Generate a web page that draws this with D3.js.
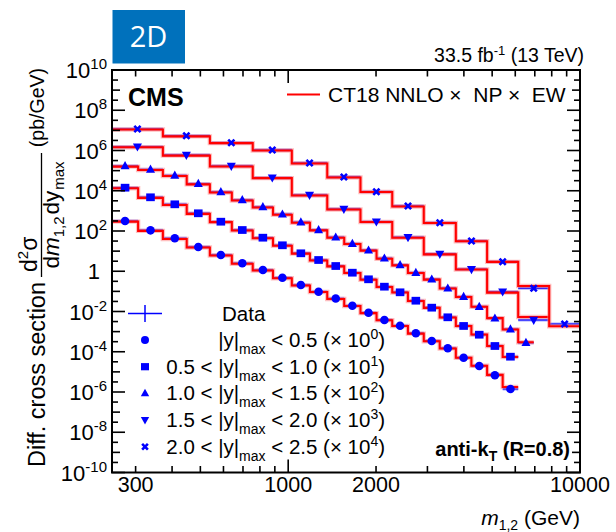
<!DOCTYPE html>
<html><head><meta charset="utf-8">
<script src="https://cdn.jsdelivr.net/npm/d3@7"></script>
<style>
html,body{margin:0;padding:0;background:#fff;}
svg text{font-family:"Liberation Sans",Arial,Helvetica,sans-serif;}
</style></head>
<body>
<svg id="chart" width="616" height="532"></svg>
<script>
// ---------------- data ----------------
const edgesFine   = [249, 306, 372, 449, 539, 641, 756, 887, 1029, 1187, 1361, 1556, 1769, 2008, 2273, 2572, 2915, 3306, 3754, 4244, 4805, 5433, 6141, 6940];
const edgesCoarse = [249, 372, 539, 756, 1029, 1361, 1769, 2273, 2915, 3754, 4805, 6141, 7842, 10000];

// unscaled measured cross sections (pb/GeV)
const dataY0 = [314, 108, 43.4, 16.0, 6.41, 2.48, 1.15, 0.479, 0.207, 0.0964, 0.0443, 0.0194, 0.0087, 0.0038, 0.00197, 8.26e-4, 3.42e-4, 1.48e-4, 5.06e-5, 1.96e-5, 6.76e-6, 1.41e-6];
const dataY1 = [1420, 473, 212, 75.9, 29.0, 11.2, 4.65, 1.95, 0.780, 0.362, 0.182, 0.0847, 0.0398, 0.0171, 0.00899, 0.00344, 0.00155, 5.15e-4, 1.91e-4, 7.03e-5, 1.93e-5, 5.68e-6];
const dataY2 = [1698, 1138, 573, 224, 86.7, 34.7, 15.6, 6.76, 2.74, 1.12, 0.486, 0.234, 0.110, 0.0440, 0.0205, 0.00847, 0.00398, 0.00142, 5.45e-4, 1.73e-4, 4.59e-5, 1.31e-5, 2.82e-6];
const dataY3 = [1545, 597, 170, 44.5, 6.15, 1.24, 0.290, 0.0486, 0.00720, 0.00125, 9.64e-5, 3.78e-6];
const dataY4 = [1169, 543, 244, 106, 23.9, 4.82, 0.897, 0.175, 0.0258, 0.00318, 2.98e-4, 1.42e-5, 2.39e-7];

// theory / data ratio
const ratioY0 = [0.93, 0.94, 0.93, 0.95, 0.94, 0.95, 0.95, 0.94, 0.95, 0.96, 0.95, 0.96, 0.95, 0.96, 0.97, 0.96, 0.97, 0.98, 1.0, 1.02, 1.05, 1.25];
const ratioY1 = [0.93, 0.94, 0.93, 0.94, 0.95, 0.95, 0.94, 0.95, 0.96, 0.95, 0.96, 0.96, 0.95, 0.96, 0.97, 0.96, 0.98, 0.97, 1.0, 1.02, 1.0, 0.97];
const ratioY2 = [0.93, 0.94, 0.94, 0.93, 0.95, 0.94, 0.95, 0.95, 0.94, 0.96, 0.95, 0.96, 0.96, 0.95, 0.96, 0.97, 0.96, 0.98, 0.97, 1.0, 1.02, 0.98, 1.05];
const ratioY3 = [0.94, 0.93, 0.94, 0.95, 0.94, 0.95, 0.96, 0.95, 0.96, 0.97, 0.9, 1.41];
const ratioY4 = [0.94, 0.93, 0.95, 0.94, 0.95, 0.94, 0.96, 0.95, 0.96, 0.97, 0.98, 1.3, 0.77];

const scaleExp    = [0, 1, 2, 3, 4];
const rangeLabels = [["", "0.5"], ["0.5", "1.0"], ["1.0", "1.5"], ["1.5", "2.0"], ["2.0", "2.5"]];
const markerTypes = ["circle", "square", "triangle", "triangleDown", "cross"];

const xTickLabels = [300, 1000, 2000, 10000];
const yLabelExps  = [10, 8, 6, 4, 2, 0, -2, -4, -6, -8, -10];

const series = [
  {edges: edgesFine,   data: dataY0, ratio: ratioY0},
  {edges: edgesFine,   data: dataY1, ratio: ratioY1},
  {edges: edgesFine,   data: dataY2, ratio: ratioY2},
  {edges: edgesCoarse, data: dataY3, ratio: ratioY3},
  {edges: edgesCoarse, data: dataY4, ratio: ratioY4}
];

// ---------------- layout ----------------
const L = 112, R = 580, T = 70, B = 472.5;
const svg = d3.select("#chart");
const x = d3.scaleLog().domain([249, 10000]).range([L, R]);
const y = d3.scaleLog().domain([1e-10, 1e10]).range([B, T]);

const BLUE = "#0000ff", RED = "#ff0000";
const FS = 21;

// badge
svg.append("rect").attr("x", 112.5).attr("y", 10).attr("width", 72.5).attr("height", 53.5).attr("fill", "#0071bc");
svg.append("text").attr("x", 148.5).attr("y", 47).attr("text-anchor", "middle")
  .style("font-family", "'Open Sans',sans-serif").style("font-size", "29px").attr("fill", "#fff").text("2D");

const plot = svg.append("g");
svg.append("clipPath").attr("id", "clipP").append("rect").attr("x", L).attr("y", T).attr("width", R - L).attr("height", B - T);
const marks = plot.append("g").attr("clip-path", "url(#clipP)");

// blue data horizontal bars
series.forEach((s, si) => {
  const f = Math.pow(10, scaleExp[si]);
  s.data.forEach((v, i) => {
    const yy = y(v * f);
    marks.append("line").attr("x1", x(s.edges[i])).attr("x2", x(s.edges[i + 1]))
      .attr("y1", yy).attr("y2", yy).attr("stroke", "#8c8cff").attr("stroke-width", 3.4).attr("opacity", 0.55);
    marks.append("line").attr("x1", x(s.edges[i])).attr("x2", x(s.edges[i + 1]))
      .attr("y1", yy).attr("y2", yy).attr("stroke", "#2020ff").attr("stroke-width", 1.6);
  });
});

// red theory step lines
series.forEach((s, si) => {
  const f = Math.pow(10, scaleExp[si]);
  const pts = s.data.map((v, i) => [s.edges[i], v * s.ratio[i] * f]);
  pts.push([s.edges[s.data.length], s.data[s.data.length - 1] * s.ratio[s.data.length - 1] * f]);
  const line = d3.line().x(d => x(d[0])).y(d => y(d[1])).curve(d3.curveStepAfter);
  marks.append("path").attr("d", line(pts)).attr("fill", "none").attr("stroke", "#ff7070").attr("stroke-width", 4.4).attr("opacity", 0.45);
  marks.append("path").attr("d", line(pts)).attr("fill", "none").attr("stroke", RED).attr("stroke-width", 2.1);
});

// markers
function drawMarker(g, type, cx, cy, sz) {
  if (type === "circle") {
    g.append("circle").attr("cx", cx).attr("cy", cy).attr("r", sz * 0.5).attr("fill", BLUE);
  } else if (type === "square") {
    g.append("rect").attr("x", cx - sz * 0.5).attr("y", cy - sz * 0.45).attr("width", sz).attr("height", sz * 0.9).attr("fill", BLUE);
  } else if (type === "triangle") {
    const h = sz * 0.95, w = sz * 1.05;
    g.append("path").attr("d", `M${cx},${cy - h * 0.6}L${cx + w / 2},${cy + h * 0.4}L${cx - w / 2},${cy + h * 0.4}Z`).attr("fill", BLUE);
  } else if (type === "triangleDown") {
    const h = sz * 0.95, w = sz * 1.05;
    g.append("path").attr("d", `M${cx},${cy + h * 0.6}L${cx + w / 2},${cy - h * 0.4}L${cx - w / 2},${cy - h * 0.4}Z`).attr("fill", BLUE);
  } else {
    const a = sz * 0.36;
    g.append("path").attr("d", `M${cx - a},${cy - a}L${cx + a},${cy + a}M${cx + a},${cy - a}L${cx - a},${cy + a}`)
      .attr("stroke", BLUE).attr("stroke-width", 2.6).attr("fill", "none");
  }
}
series.forEach((s, si) => {
  const f = Math.pow(10, scaleExp[si]);
  s.data.forEach((v, i) => {
    const cx = (x(s.edges[i]) + x(s.edges[i + 1])) / 2;
    drawMarker(marks, markerTypes[si], cx, y(v * f), 8.6);
  });
});

// ---------------- axes / frame ----------------
const ax = svg.append("g");
ax.append("rect").attr("x", L).attr("y", T).attr("width", R - L).attr("height", B - T)
  .attr("fill", "none").attr("stroke", "#000").attr("stroke-width", 2);

// x ticks (inward), bottom and top
const xTicks = [];
[100, 1000].forEach(d => { for (let k = 1; k <= 9; k++) { const v = d * k; if (v >= 249 && v <= 10000) xTicks.push(v); } });
xTicks.push(10000);
xTicks.forEach(v => {
  const major = (v === 1000 || v === 10000);
  const len = major ? 13 : 6.5;
  ax.append("line").attr("x1", x(v)).attr("x2", x(v)).attr("y1", B).attr("y2", B - len).attr("stroke", "#000").attr("stroke-width", 1.6);
  ax.append("line").attr("x1", x(v)).attr("x2", x(v)).attr("y1", T).attr("y2", T + len).attr("stroke", "#000").attr("stroke-width", 1.6);
});
xTickLabels.forEach(v => {
  ax.append("text").attr("x", x(v)).attr("y", 492).attr("text-anchor", "middle").style("font-size", "21.5px").text(v);
});

// y ticks
for (let e = -10; e <= 10; e++) {
  const yy = y(Math.pow(10, e));
  const len = (e % 2 === 0) ? 13 : 8;
  ax.append("line").attr("x1", L).attr("x2", L + len).attr("y1", yy).attr("y2", yy).attr("stroke", "#000").attr("stroke-width", 1.6);
  ax.append("line").attr("x1", R).attr("x2", R - len).attr("y1", yy).attr("y2", yy).attr("stroke", "#000").attr("stroke-width", 1.6);
  if (e < 10) {
    const ym = y(Math.pow(10, e + 0.5));
    ax.append("line").attr("x1", L).attr("x2", L + 6).attr("y1", ym).attr("y2", ym).attr("stroke", "#000").attr("stroke-width", 1.6);
    ax.append("line").attr("x1", R).attr("x2", R - 6).attr("y1", ym).attr("y2", ym).attr("stroke", "#000").attr("stroke-width", 1.6);
  }
}
yLabelExps.forEach(e => {
  const yy = y(Math.pow(10, e));
  if (e === 0) {
    ax.append("text").attr("x", 100).attr("y", yy + 8).attr("text-anchor", "end").style("font-size", "22px").text("1");
  } else {
    const t = ax.append("text").attr("x", 107).attr("y", yy + 8).attr("text-anchor", "end").style("font-size", "22px");
    t.append("tspan").text("10");
    t.append("tspan").attr("dy", -9).style("font-size", "15px").text(e);
  }
});

// axis titles
const xt = ax.append("text").attr("x", 580).attr("y", 525).attr("text-anchor", "end").style("font-size", FS + "px");
xt.append("tspan").style("font-style", "italic").text("m");
xt.append("tspan").attr("dy", 5).style("font-size", "14px").text("1,2");
xt.append("tspan").attr("dy", -5).text("\u00a0(GeV)");

const yt = ax.append("g").attr("transform", "translate(45,70) rotate(-90)");
yt.append("text").attr("x", 2).attr("y", -1).attr("text-anchor", "end").style("font-size", "19.5px").text("(pb/GeV)");
yt.append("line").attr("x1", -83).attr("x2", -207).attr("y1", -3.5).attr("y2", -3.5).attr("stroke", "#000").attr("stroke-width", 1.3);
const num = yt.append("text").attr("x", -202).attr("y", -8).attr("text-anchor", "start").style("font-size", "23px");
num.append("tspan").text("d");
num.append("tspan").attr("dy", -9).style("font-size", "15px").text("2");
num.append("tspan").attr("dy", 9).text("σ");
const den = yt.append("text").attr("x", -145).attr("y", 13.5).attr("text-anchor", "middle").style("font-size", "22.5px");
den.append("tspan").text("d");
den.append("tspan").style("font-style", "italic").text("m");
den.append("tspan").attr("dy", 5).style("font-size", "15px").text("1,2");
den.append("tspan").attr("dy", -5).attr("dx", 2).text("dy");
den.append("tspan").attr("dy", 5).attr("dx", 1).style("font-size", "15px").text("max");
yt.append("text").attr("x", -212).attr("y", 0).attr("text-anchor", "end").style("font-size", "23.5px").text("Diff. cross section");

// texts
svg.append("text").attr("x", 584).attr("y", 62).attr("text-anchor", "end").style("font-size", "19.5px")
  .call(t => { t.append("tspan").text("33.5 fb"); t.append("tspan").attr("dy", -7).style("font-size", "13px").text("-1"); t.append("tspan").attr("dy", 7).text("\u00a0(13 TeV)"); });
svg.append("text").attr("x", 128).attr("y", 106).style("font-size", "25px").style("font-weight", "bold").text("CMS");
svg.append("text").attr("x", 570).attr("y", 456).attr("text-anchor", "end").style("font-size", "20px").style("font-weight", "bold")
  .call(t => { t.append("tspan").text("anti-k"); t.append("tspan").attr("dy", 5).style("font-size", "14px").text("T"); t.append("tspan").attr("dy", -5).text("\u00a0(R=0.8)"); });

// theory legend
svg.append("line").attr("x1", 287).attr("x2", 320).attr("y1", 94.5).attr("y2", 94.5).attr("stroke", RED).attr("stroke-width", 2);
svg.append("text").attr("x", 328).attr("y", 101.5).style("font-size", FS + "px").text("CT18 NNLO \u00d7\u00a0 NP \u00d7\u00a0 EW");

// data legend
const lg = svg.append("g");
lg.append("line").attr("x1", 128).attr("x2", 162).attr("y1", 313.5).attr("y2", 313.5).attr("stroke", BLUE).attr("stroke-width", 1.5);
lg.append("line").attr("x1", 145).attr("x2", 145).attr("y1", 305).attr("y2", 322).attr("stroke", BLUE).attr("stroke-width", 1.5);
lg.append("text").attr("x", 222).attr("y", 320.5).style("font-size", "20.5px").text("Data");
const rowY = [340, 366.7, 393.3, 420, 446.7];
rangeLabels.forEach((r, i) => {
  drawMarker(lg, markerTypes[i], 145, rowY[i], 8);
  const t = lg.append("text").attr("x", 385).attr("y", rowY[i] + 7).attr("text-anchor", "end").style("font-size", "20.5px");
  t.append("tspan").text((r[0] ? r[0] + " < " : "") + "|y|");
  t.append("tspan").attr("dy", 7).style("font-size", "14px").text("max");
  t.append("tspan").attr("dy", -7).text("\u00a0< " + r[1] + " (\u00d7 10");
  t.append("tspan").attr("dy", -8).style("font-size", "14px").text(scaleExp[i]);
  t.append("tspan").attr("dy", 8).text(")");
});
</script>
</body></html>
